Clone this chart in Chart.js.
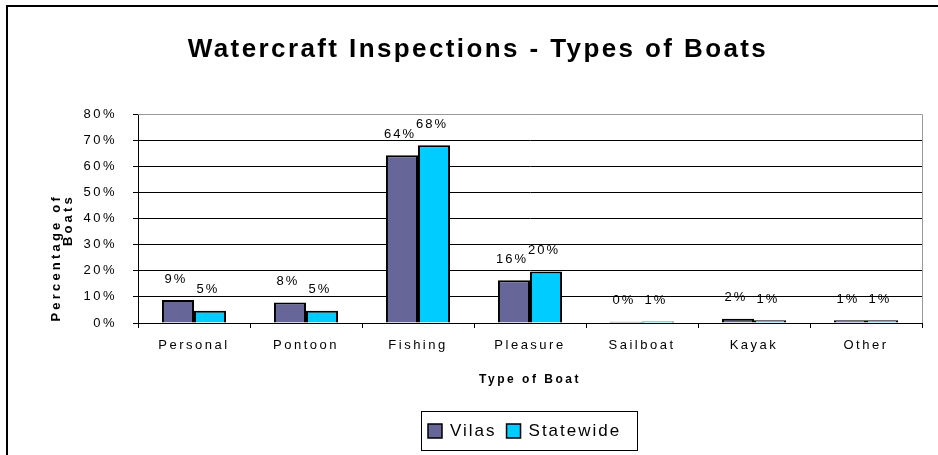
<!DOCTYPE html>
<html>
<head>
<meta charset="utf-8">
<script src="https://cdn.jsdelivr.net/npm/chart.js@4.4.0/dist/chart.umd.min.js"></script>
<style>
  html, body { margin: 0; padding: 0; background: #fff; }
  #wrap { position: relative; width: 938px; height: 455px; }
</style>
</head>
<body>
<div id="wrap"><canvas id="chart" width="938" height="455"></canvas></div>
<script>
// Schrift: Arial-kompatibel, Sperrung kommt über ctx.letterSpacing
const FONT = '"Liberation Sans", Arial, sans-serif';

const chartTitle = 'Watercraft Inspections - Types of Boats';
const yAxisTitle = ['Percentage of', 'Boats'];
const boatTypes = ['Personal', 'Pontoon', 'Fishing', 'Pleasure', 'Sailboat', 'Kayak', 'Other'];
const vilasPct = [8.8, 7.8, 64.2, 16.4, 0.45, 1.6, 1.1];
const statewidePct = [4.7, 4.7, 68.0, 19.7, 0.6, 1.1, 1.1];
const seriesNames = ['Vilas', 'Statewide'];
const yTickValues = [0, 10, 20, 30, 40, 50, 60, 70, 80];

const VILAS_COLOR = '#666699';
const STATE_COLOR = '#00CCFF';
const AXIS_SPACING = '2.5px';

/**
 * Zeichnet Rahmen, Titel, Achsentitel, Werte-Beschriftung und die umrandete Legende.
 */
const chromePlugin = {
    id: 'chrome',
    beforeUpdate(chart) {
        chart.ctx.letterSpacing = AXIS_SPACING;
    },
    beforeDraw(chart) {
        const ctx = chart.ctx;
        ctx.save();
        ctx.fillStyle = '#fff';
        ctx.fillRect(0, 0, chart.width, chart.height);
        // äußerer Rahmen (läuft rechts/unten aus dem Bild)
        ctx.fillStyle = '#000';
        ctx.fillRect(6, 5, 2, chart.height);
        ctx.fillRect(6, 5, chart.width, 2);
        ctx.restore();
        ctx.letterSpacing = AXIS_SPACING;
    },
    afterDatasetsDraw(chart) {
        const ctx = chart.ctx;
        ctx.save();
        ctx.letterSpacing = '2px';
        ctx.font = '13px ' + FONT;
        ctx.fillStyle = '#000';
        ctx.textAlign = 'center';
        ctx.textBaseline = 'middle';
        chart.data.datasets.forEach((ds, di) => {
            const meta = chart.getDatasetMeta(di);
            meta.data.forEach((bar, i) => {
                const label = Math.round(ds.data[i]) + '%';
                ctx.fillText(label, bar.x - 2, bar.y - 21);
            });
        });
        ctx.restore();
    },
    afterDraw(chart) {
        const ctx = chart.ctx;
        const area = chart.chartArea;
        ctx.save();
        // graue Plotfläche oben/rechts
        ctx.strokeStyle = '#999';
        ctx.lineWidth = 1;
        ctx.beginPath();
        ctx.moveTo(area.left, area.top + 0.5);
        ctx.lineTo(area.right + 0.5, area.top + 0.5);
        ctx.lineTo(area.right + 0.5, area.bottom);
        ctx.stroke();

        // Titel
        ctx.letterSpacing = '2.4px';
        ctx.font = 'bold 26px ' + FONT;
        ctx.fillStyle = '#000';
        ctx.textAlign = 'center';
        ctx.textBaseline = 'alphabetic';
        ctx.fillText(chartTitle, 478, 57);

        // Y-Achsentitel (zweizeilig, gedreht, oben bündig wie im Original)
        ctx.letterSpacing = '3.2px';
        ctx.font = 'bold 13px ' + FONT;
        ctx.textAlign = 'right';
        [60, 72].forEach((bx, li) => {
            ctx.save();
            ctx.translate(bx, 194);
            ctx.rotate(-Math.PI / 2);
            ctx.fillText(yAxisTitle[li], 0, 0);
            ctx.restore();
        });

        // Legende mit Rahmen
        const box = { x: 421.5, y: 411.5, w: 216, h: 39 };
        ctx.strokeStyle = '#000';
        ctx.lineWidth = 1;
        ctx.strokeRect(box.x, box.y, box.w, box.h);
        ctx.letterSpacing = '2px';
        ctx.font = '17px ' + FONT;
        ctx.textAlign = 'left';
        ctx.textBaseline = 'middle';
        let x = 428;
        chart.data.datasets.forEach((ds) => {
            ctx.fillStyle = ds.backgroundColor;
            ctx.fillRect(x, 424, 14, 14);
            ctx.lineWidth = 1.5;
            ctx.strokeRect(x, 424, 14, 14);
            ctx.fillStyle = '#000';
            ctx.fillText(ds.label, x + 22, 431);
            x += 22 + ctx.measureText(ds.label).width + 10;
        });
        ctx.restore();
    }
};

new Chart(document.getElementById('chart').getContext('2d'), {
    type: 'bar',
    data: {
        labels: boatTypes,
        datasets: [
            {
                label: seriesNames[0],
                data: vilasPct,
                backgroundColor: VILAS_COLOR,
                borderColor: '#000',
                borderWidth: 2
            },
            {
                label: seriesNames[1],
                data: statewidePct,
                backgroundColor: STATE_COLOR,
                borderColor: '#000',
                borderWidth: 2
            }
        ]
    },
    options: {
        responsive: false,
        animation: false,
        events: [],
        layout: { padding: { left: 0, top: 114, right: 16, bottom: 0 } },
        datasets: { bar: { barPercentage: 1, categoryPercentage: 0.572 } },
        plugins: {
            legend: { display: false },
            title: { display: false },
            tooltip: { enabled: false }
        },
        scales: {
            x: {
                afterFit: (scale) => { scale.height = 132; },
                grid: { drawOnChartArea: false, offset: true, tickLength: 5, tickColor: '#000' },
                border: { color: '#000', width: 1 },
                ticks: { color: '#000', padding: 10, font: { family: FONT, size: 13 } },
                title: {
                    display: true,
                    text: 'Type of Boat',
                    color: '#000',
                    font: { family: FONT, size: 12, weight: 'bold' },
                    padding: { top: 0, bottom: 68 }
                }
            },
            y: {
                min: 0,
                max: 80,
                afterFit: (scale) => { scale.width = 138; },
                afterBuildTicks: (scale) => { scale.ticks = yTickValues.map(v => ({ value: v })); },
                grid: {
                    color: (c) => (c.tick && c.tick.value === 80 ? '#999' : '#000'),
                    tickLength: 5,
                    tickColor: '#000'
                },
                border: { color: '#000', width: 1 },
                ticks: {
                    color: '#000',
                    padding: 16,
                    font: { family: FONT, size: 13 },
                    callback: (v) => v + '%'
                },
                title: { display: false }
            }
        }
    },
    plugins: [chromePlugin]
});
</script>
</body>
</html>
